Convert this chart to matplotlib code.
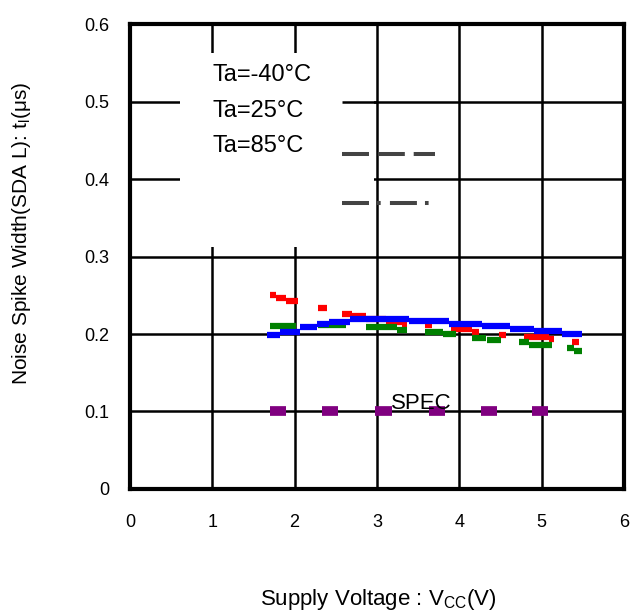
import matplotlib.pyplot as plt
from matplotlib.patches import Rectangle

plt.rcParams['font.family'] = ['Liberation Sans', 'DejaVu Sans']
plt.rcParams['mathtext.fontset'] = 'custom'
plt.rcParams['mathtext.rm'] = 'Liberation Sans'
plt.rcParams['mathtext.it'] = 'Liberation Sans'

# step segments: start V, end V, width (us)
blue_x0 = [1.67, 1.82, 2.06, 2.27, 2.42, 2.67, 3.11, 3.39, 3.88, 4.28, 4.61, 4.91, 5.25]
blue_x1 = [1.82, 2.06, 2.27, 2.42, 2.67, 3.11, 3.39, 3.88, 4.28, 4.61, 4.91, 5.25, 5.49]
blue_y = [0.199, 0.203, 0.209, 0.213, 0.215, 0.219, 0.220, 0.217, 0.213, 0.210, 0.206, 0.204, 0.200]

red_x0 = [1.70, 1.78, 1.90, 2.28, 2.58, 2.70, 2.87, 3.11, 3.31, 3.58, 3.90, 4.15, 4.48, 4.79, 5.09, 5.37]
red_x1 = [1.78, 1.90, 2.04, 2.39, 2.70, 2.87, 3.11, 3.31, 3.36, 3.67, 4.15, 4.24, 4.57, 5.09, 5.15, 5.45]
red_y = [0.250, 0.246, 0.242, 0.233, 0.226, 0.223, 0.219, 0.215, 0.212, 0.211, 0.206, 0.203, 0.199, 0.196, 0.194, 0.190]

green_x0 = [1.70, 2.28, 2.87, 3.24, 3.58, 3.80, 4.16, 4.34, 4.73, 4.85, 5.31, 5.39]
green_x1 = [2.02, 2.63, 3.24, 3.37, 3.80, 3.96, 4.33, 4.51, 4.85, 5.12, 5.39, 5.49]
green_y = [0.210, 0.212, 0.209, 0.205, 0.203, 0.200, 0.195, 0.192, 0.190, 0.186, 0.182, 0.178]

spec_x = [1.80, 2.43, 3.08, 3.73, 4.36, 4.98]
spec_y = 0.1

legend_labels = ['Ta=-40°C', 'Ta=25°C', 'Ta=85°C']

fig = plt.figure(figsize=(6.4, 6.13), dpi=100)
ax = fig.add_axes([0.203, 0.2023, 0.772, 0.7585])
ax.set_xlim(0, 6)
ax.set_ylim(0, 0.6)
ax.set_xticks(range(7))
ax.set_yticks([0, 0.1, 0.2, 0.3, 0.4, 0.5, 0.6])
ax.set_yticklabels(['0', '0.1', '0.2', '0.3', '0.4', '0.5', '0.6'])
ax.tick_params(length=0, labelsize=13)
ax.tick_params(axis='y', pad=15)
ax.tick_params(axis='x', pad=18)
ax.grid(True, color='black', linewidth=1.8, zorder=1)
for s in ax.spines.values():
    s.set_linewidth(3)
    s.set_zorder(10)

# legend area blanks out part of the grid
ax.add_patch(Rectangle((0.61, 0.312), 2.36, 0.25, facecolor='white',
                       edgecolor='none', zorder=2))
ax.hlines(0.5, 2.58, 3.0, color='black', linewidth=1.8, zorder=3)
for i, lab in enumerate(legend_labels):
    ax.text(1.00, 0.534 - i * 0.046, lab, fontsize=17,
            va='center', ha='left', zorder=4)
ax.plot([2.58, 3.70], [0.432, 0.432], color='#444444', linewidth=2.9,
        dashes=(6.7, 2.2), zorder=4)
ax.plot([2.58, 3.70], [0.369, 0.369], color='#444444', linewidth=2.9,
        dashes=(6.7, 2.0, 0.9, 2.3), zorder=4)

ax.hlines(red_y, red_x0, red_x1, color='#ff0000', linewidth=4.5, zorder=5)
ax.hlines(green_y, green_x0, green_x1, color='#008000', linewidth=4.5, zorder=5)
ax.hlines(blue_y, blue_x0, blue_x1, color='#0000ff', linewidth=4.5, zorder=6)

ax.hlines([spec_y] * len(spec_x), [x - 0.1 for x in spec_x],
          [x + 0.1 for x in spec_x], color='#800080', linewidth=7, zorder=5)
ax.text(3.54, 0.11, 'SPEC', fontsize=16, ha='center', va='center', zorder=7)

ax.set_xlabel(r'Supply Voltage : V$_{\mathrm{CC}}$(V)', fontsize=16)
ax.set_ylabel(r'Noise Spike Width(SDA L): t$_{\mathrm{l}}$(μs)', fontsize=15)
ax.xaxis.set_label_coords(0.502, -0.21)
ax.yaxis.set_label_coords(-0.196, 0.55)

fig.savefig('out.png', dpi=100)
